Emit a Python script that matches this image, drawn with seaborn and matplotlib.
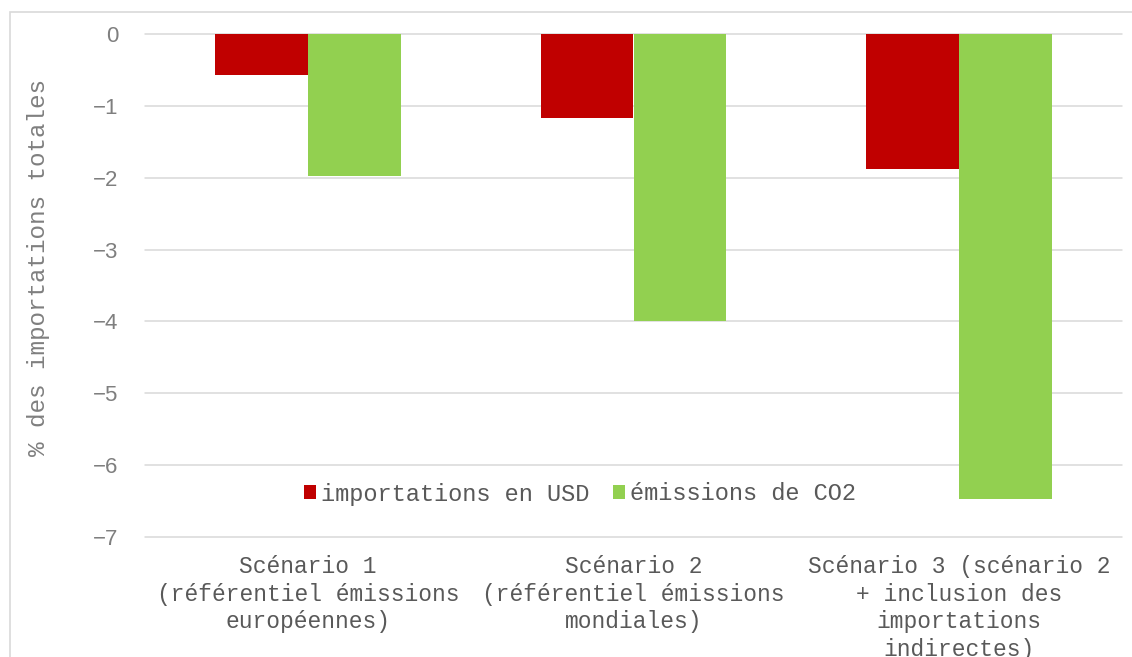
import matplotlib
matplotlib.use("Agg")
import matplotlib.pyplot as plt
from matplotlib import font_manager as fm
import seaborn as sns
import pandas as pd
from matplotlib.patches import Rectangle

categories = [
    "Scénario 1\n(référentiel émissions\neuropéennes)",
    "Scénario 2\n(référentiel émissions\nmondiales)",
    "Scénario 3 (scénario 2\n+ inclusion des\nimportations\nindirectes)",
]
series_names = ["importations en USD", "émissions de CO2"]
importations_usd = [-0.57, -1.17, -1.88]
emissions_co2 = [-1.97, -4.0, -6.47]
yticks = [0, -1, -2, -3, -4, -5, -6, -7]
ylabel = "% des importations totales"

df = pd.DataFrame({
    "cat": categories * 2,
    "serie": [series_names[0]] * 3 + [series_names[1]] * 3,
    "val": importations_usd + emissions_co2,
})

sns.set_style("white")

avail = {f.name for f in fm.fontManager.ttflist}
def pick(names, default):
    for n in names:
        if n in avail:
            return n
    return default

MONO = pick(["Liberation Mono", "Courier New", "Nimbus Mono PS", "FreeMono",
             "DejaVu Sans Mono"], "monospace")
SANS = pick(["Liberation Sans", "Arial", "DejaVu Sans"], "sans-serif")

W, H = 1132, 657
fig = plt.figure(figsize=(W / 100, H / 100), dpi=100)
ax = fig.add_axes([145 / W, (H - 537) / H, (1122 - 145) / W, (537 - 34) / H])

palette = {series_names[0]: "#C00000", series_names[1]: "#92D050"}
sns.barplot(data=df, x="cat", y="val", hue="serie", order=categories,
            hue_order=series_names, palette=palette, width=0.57, gap=0,
            saturation=1, ax=ax, legend=True, edgecolor="none", linewidth=0)

ax.set_ylim(-7, 0)
ax.set_xlim(-0.5, 2.5)
ax.set_yticks(yticks)
ax.set_yticklabels(["0" if v == 0 else "\u2212%d" % abs(v) for v in yticks],
                   fontfamily=SANS, fontsize=16, color="#7f7f7f")
for y in yticks:
    ax.axhline(y, color="#d9d9d9", lw=1.1, zorder=0, clip_on=False)
for s in ax.spines.values():
    s.set_visible(False)
ax.tick_params(axis="y", length=0, pad=19)
ax.tick_params(axis="x", length=0, pad=13)
ax.set_xticks(range(len(categories)))
ax.set_xticklabels(categories, fontfamily=MONO, fontsize=16.5,
                   color="#595959", linespacing=1.25, va="top")
ax.set_xlabel("")
ax.set_ylabel(ylabel, fontfamily=MONO, fontsize=17.5, color="#7f7f7f")
ax.yaxis.set_label_coords(-0.097, 0.535)

leg = ax.legend(loc="center", bbox_to_anchor=(580 / W, (H - 494) / H),
                bbox_transform=fig.transFigure, ncol=2, frameon=False,
                prop={"family": MONO, "size": 17},
                handlelength=0.5, handleheight=0.5, handletextpad=0.2,
                columnspacing=1.0, borderpad=0, borderaxespad=0)
for t in leg.get_texts():
    t.set_color("#595959")

fig.add_artist(Rectangle((10 / W, -0.1), 1.2, (H - 12) / H + 0.1,
                         transform=fig.transFigure, fill=False,
                         edgecolor="#d9d9d9", lw=1.2, zorder=-5))

fig.savefig("out.png", dpi=100, facecolor="white")
